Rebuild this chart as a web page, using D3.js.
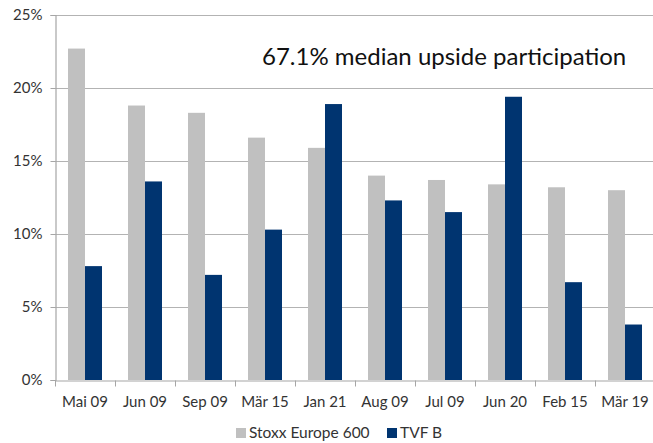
<!DOCTYPE html>
<html><head><meta charset="utf-8">
<script src="https://cdn.jsdelivr.net/npm/d3@7"></script>
<style>
html,body{margin:0;padding:0;background:#fff;}
svg{display:block;font-family:Lato,"Open Sans",sans-serif;}
</style></head>
<body>
<script>
const categories = ["Mai 09","Jun 09","Sep 09","Mär 15","Jan 21","Aug 09","Jul 09","Jun 20","Feb 15","Mär 19"];
const seriesNames = ["Stoxx Europe 600","TVF B"];
const stoxx = [22.7,18.8,18.3,16.6,15.9,14.0,13.7,13.4,13.2,13.0];
const tvf = [7.8,13.6,7.2,10.3,18.9,12.3,11.5,19.4,6.7,3.8];
const yTicks = [0,5,10,15,20,25];
const yTickLabels = ["0%","5%","10%","15%","20%","25%"];
const title = "67.1% median upside participation";
const colors = ["#c0c0c0","#003470"];

const W=653,H=443;
const svg=d3.select("body").append("svg").attr("width",W).attr("height",H);
const L=55,R=655,T=15,B=380;
const x0=d3.scaleBand().domain(categories).range([L,R]).padding(0);
const x1=d3.scaleBand().domain(seriesNames).range([0,x0.bandwidth()]).paddingInner(0).paddingOuter(0.765);
const y=d3.scaleLinear().domain([0,25]).range([B,T]);

// gridlines
svg.append("g").selectAll("line").data(yTicks.filter(d=>d>0)).join("line")
  .attr("x1",L).attr("x2",W).attr("y1",d=>Math.round(y(d))+0.5).attr("y2",d=>Math.round(y(d))+0.5)
  .attr("stroke","#b3b3b3").attr("stroke-width",1.2);

// bars
const data=[stoxx,tvf];
const g=svg.append("g");
categories.forEach((c,i)=>{
  seriesNames.forEach((s,j)=>{
    const v=data[j][i];
    g.append("rect").attr("x",x0(c)+x1(s)).attr("y",y(v)).attr("width",x1.bandwidth()).attr("height",y(0)-y(v))
      .attr("fill",colors[j]);
  });
});

// y axis
const yAxis=d3.axisLeft(y).tickValues(yTicks).tickFormat((d,i)=>yTickLabels[i]).tickSize(5).tickPadding(8);
const ya=svg.append("g").attr("transform",`translate(${L+0.5},0)`).call(yAxis);
ya.select(".domain").attr("stroke","#a6a6a6").attr("stroke-width",1.2);
ya.selectAll(".tick line").attr("stroke","#a6a6a6");
ya.selectAll(".tick text").attr("font-size",15).attr("fill","#333").attr("font-family","Lato,sans-serif");

// x axis
const xa=svg.append("g").attr("transform",`translate(0,${B+0.5})`).call(d3.axisBottom(x0).tickSize(0).tickPadding(16));
xa.select(".domain").attr("stroke","#a6a6a6").attr("stroke-width",1.2);
xa.selectAll(".tick text").attr("font-size",15).attr("fill","#333").attr("font-family","Lato,sans-serif");
// category boundary ticks
xa.append("g").selectAll("line").data(categories).join("line")
  .attr("x1",d=>x0(d)+0.5).attr("x2",d=>x0(d)+0.5).attr("y1",0).attr("y2",6).attr("stroke","#a6a6a6");

// title
svg.append("text").attr("x",262).attr("y",65).attr("font-size",24).attr("fill","#111").text(title);

// legend
const leg=svg.append("g");
const legX=[236,387], legTextX=[249,400];
seriesNames.forEach((s,j)=>{
  leg.append("rect").attr("x",legX[j]).attr("y",428).attr("width",10).attr("height",10).attr("fill",colors[j]);
  leg.append("text").attr("x",legTextX[j]).attr("y",438).attr("font-size",15.5).attr("fill","#333").text(s);
});
</script>
</body></html>
